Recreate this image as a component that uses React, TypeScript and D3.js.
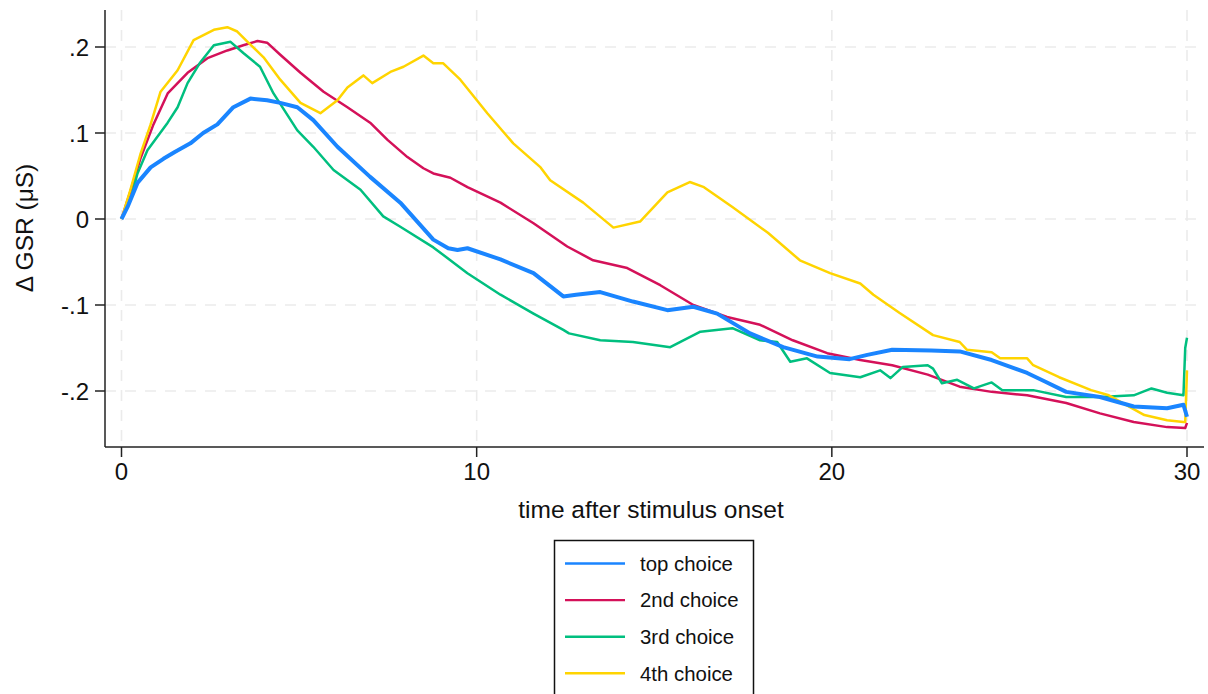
import React, { useRef, useEffect } from 'react';
import * as d3 from 'd3';

// [time, delta GSR]
const topChoice: [number, number][] = [
  [0, 0], [0.17, 0.014], [0.45, 0.042], [0.82, 0.06], [1.18, 0.07], [1.5, 0.078], [1.94, 0.088],
  [2.3, 0.1], [2.7, 0.11], [3.15, 0.13], [3.63, 0.14], [4.1, 0.138], [4.47, 0.135], [4.95, 0.13],
  [5.4, 0.115], [6.08, 0.084], [7.0, 0.049], [7.85, 0.019], [8.78, -0.024], [9.2, -0.034],
  [9.46, -0.036], [9.74, -0.034], [10.67, -0.047], [11.6, -0.063], [12.44, -0.09], [12.8, -0.088],
  [13.48, -0.085], [14.4, -0.096], [15.37, -0.106], [16.1, -0.102], [16.77, -0.11], [17.7, -0.133],
  [18.63, -0.149], [19.6, -0.16], [20.5, -0.163], [21.0, -0.158], [21.7, -0.152], [22.8, -0.153],
  [23.6, -0.154], [24.5, -0.164], [25.5, -0.179], [26.0, -0.189], [26.6, -0.201], [27.55, -0.207],
  [28.5, -0.218], [29.44, -0.22], [29.9, -0.216], [30, -0.23],
];

const secondChoice: [number, number][] = [
  [0, 0], [0.25, 0.032], [0.53, 0.07], [0.9, 0.11], [1.3, 0.146], [1.86, 0.17], [2.42, 0.187],
  [2.98, 0.196], [3.43, 0.202], [3.83, 0.207], [4.1, 0.205], [4.47, 0.191], [5.04, 0.17],
  [5.69, 0.148], [6.36, 0.13], [7.0, 0.112], [7.49, 0.092], [8.05, 0.072], [8.5, 0.059],
  [8.78, 0.053], [9.26, 0.048], [9.74, 0.037], [10.67, 0.019], [11.6, -0.005], [12.55, -0.032],
  [13.28, -0.048], [14.24, -0.057], [15.17, -0.077], [16.1, -0.1], [17.05, -0.114], [17.98, -0.123],
  [18.9, -0.141], [19.87, -0.156], [20.8, -0.164], [21.7, -0.17], [22.7, -0.181], [23.6, -0.195],
  [24.5, -0.201], [25.5, -0.205], [26.6, -0.214], [27.55, -0.226], [28.5, -0.236], [29.44, -0.242],
  [29.95, -0.243], [30, -0.237],
];

const thirdChoice: [number, number][] = [
  [0, 0], [0.25, 0.022], [0.45, 0.053], [0.73, 0.08], [1.3, 0.112], [1.58, 0.13], [1.86, 0.158],
  [2.2, 0.181], [2.6, 0.202], [3.07, 0.206], [3.43, 0.193], [3.9, 0.177], [4.28, 0.146],
  [4.95, 0.103], [5.4, 0.084], [5.97, 0.057], [6.73, 0.034], [7.37, 0.003], [7.85, -0.009],
  [8.78, -0.033], [9.74, -0.063], [10.67, -0.088], [11.6, -0.11], [12.44, -0.129], [12.6, -0.133],
  [13.48, -0.141], [14.4, -0.143], [15.45, -0.149], [16.3, -0.131], [17.2, -0.127], [17.98, -0.141],
  [18.46, -0.143], [18.83, -0.166], [19.3, -0.162], [19.95, -0.179], [20.8, -0.184], [21.36, -0.176],
  [21.65, -0.185], [22.0, -0.172], [22.7, -0.17], [22.85, -0.174], [23.1, -0.191], [23.53, -0.187],
  [24.0, -0.197], [24.5, -0.19], [24.8, -0.199], [25.67, -0.199], [26.6, -0.207], [27.55, -0.207],
  [28.5, -0.205], [29.0, -0.197], [29.44, -0.202], [29.9, -0.205], [29.95, -0.15], [30, -0.138],
];

const fourthChoice: [number, number][] = [
  [0, 0], [0.25, 0.034], [0.53, 0.075], [0.82, 0.11], [1.1, 0.148], [1.58, 0.173], [2.03, 0.208],
  [2.6, 0.22], [2.98, 0.223], [3.26, 0.218], [3.55, 0.206], [4.0, 0.188], [4.47, 0.162],
  [5.04, 0.135], [5.6, 0.123], [6.08, 0.138], [6.36, 0.153], [6.81, 0.167], [7.06, 0.158],
  [7.57, 0.171], [7.94, 0.177], [8.5, 0.19], [8.78, 0.181], [9.06, 0.181], [9.54, 0.162],
  [10.3, 0.123], [11.03, 0.088], [11.8, 0.06], [12.07, 0.045], [13.0, 0.019], [13.85, -0.01],
  [14.6, -0.003], [15.37, 0.031], [16.0, 0.043], [16.4, 0.037], [17.2, 0.014], [18.2, -0.016],
  [19.1, -0.048], [19.95, -0.063], [20.8, -0.075], [21.17, -0.088], [21.9, -0.109], [22.85, -0.135],
  [23.6, -0.143], [23.8, -0.152], [24.5, -0.155], [24.74, -0.162], [25.5, -0.162], [25.67, -0.17],
  [26.4, -0.184], [27.3, -0.199], [27.8, -0.205], [28.8, -0.228], [29.44, -0.234], [29.9, -0.236],
  [29.95, -0.236], [30, -0.176],
];

const seriesNames = ['top choice', '2nd choice', '3rd choice', '4th choice'];
const seriesColors = ['#1a85ff', '#d41159', '#00bf7f', '#ffd400'];
const xTicks = [0, 10, 20, 30];
const yTicks = [0.2, 0.1, 0, -0.1, -0.2];
const yTickLabels = ['.2', '.1', '0', '-.1', '-.2'];

const App = () => {
  const svgRef = useRef<SVGSVGElement>(null);

  useEffect(() => {
    const width = 1208;
    const height = 694;
    const font = '"Liberation Sans", Arial, sans-serif';
    const svg = d3.select(svgRef.current);
    svg.selectAll('*').remove();

    // plot box edges
    const left = 105, right = 1204, top = 10, bottom = 447;

    const x = d3.scaleLinear().domain([0, 30]).range([121.5, 1187]);
    const y = d3.scaleLinear().domain([-0.2, 0.2]).range([391, 47]);

    svg.append('rect').attr('width', width).attr('height', height).attr('fill', '#fff');

    // dashed grid
    const grid = svg.append('g').attr('stroke', '#ebebeb').attr('stroke-width', 1.6)
      .attr('stroke-dasharray', '11,9');
    xTicks.forEach(t => {
      grid.append('line').attr('x1', x(t)).attr('x2', x(t)).attr('y1', top).attr('y2', bottom);
    });
    yTicks.forEach(t => {
      grid.append('line').attr('x1', left).attr('x2', right).attr('y1', y(t)).attr('y2', y(t));
    });

    // series lines
    const line = d3.line<[number, number]>().x(d => x(d[0])).y(d => y(d[1]));
    const allSeries = [topChoice, secondChoice, thirdChoice, fourthChoice];
    [1, 2, 3, 0].forEach(i => {
      svg.append('path')
        .datum(allSeries[i])
        .attr('d', line)
        .attr('fill', 'none')
        .attr('stroke', seriesColors[i])
        .attr('stroke-width', i === 0 ? 4 : 2.5)
        .attr('stroke-linejoin', 'round');
    });

    // axes
    const axisColor = '#222';
    svg.append('line').attr('x1', left).attr('x2', left).attr('y1', top).attr('y2', bottom)
      .attr('stroke', axisColor).attr('stroke-width', 1.5);
    svg.append('line').attr('x1', left).attr('x2', right).attr('y1', bottom).attr('y2', bottom)
      .attr('stroke', axisColor).attr('stroke-width', 1.5);

    yTicks.forEach((t, i) => {
      svg.append('line').attr('x1', left - 10).attr('x2', left).attr('y1', y(t)).attr('y2', y(t))
        .attr('stroke', axisColor).attr('stroke-width', 1.5);
      svg.append('text')
        .attr('x', 89).attr('y', y(t)).attr('dy', '0.36em')
        .attr('text-anchor', 'end')
        .style('font-family', font).style('font-size', '24px').attr('fill', '#111')
        .text(yTickLabels[i]);
    });
    xTicks.forEach(t => {
      svg.append('line').attr('x1', x(t)).attr('x2', x(t)).attr('y1', bottom).attr('y2', bottom + 10)
        .attr('stroke', axisColor).attr('stroke-width', 1.5);
      svg.append('text')
        .attr('x', x(t)).attr('y', 480)
        .attr('text-anchor', 'middle')
        .style('font-family', font).style('font-size', '24px').attr('fill', '#111')
        .text(t);
    });

    // axis titles
    svg.append('text')
      .attr('x', 651).attr('y', 518)
      .attr('text-anchor', 'middle')
      .style('font-family', font).style('font-size', '24.5px').attr('fill', '#111')
      .text('time after stimulus onset');
    svg.append('text')
      .attr('transform', 'translate(33,228) rotate(-90)')
      .attr('text-anchor', 'middle')
      .style('font-family', font).style('font-size', '24.5px').attr('fill', '#111')
      .text('Δ GSR (μS)');

    // legend
    const lg = svg.append('g');
    lg.append('rect').attr('x', 554.5).attr('y', 540.5).attr('width', 199).attr('height', 170)
      .attr('fill', '#fff').attr('stroke', '#111').attr('stroke-width', 1.5);
    seriesNames.forEach((name, i) => {
      const ry = 563.5 + i * 36.6;
      lg.append('line').attr('x1', 565).attr('x2', 625).attr('y1', ry).attr('y2', ry)
        .attr('stroke', seriesColors[i]).attr('stroke-width', i === 0 ? 2.6 : 2.4);
      lg.append('text').attr('x', 640).attr('y', ry).attr('dy', '0.36em')
        .style('font-family', font).style('font-size', '20.4px').attr('fill', '#111')
        .text(name);
    });
  }, []);

  return (
    <svg ref={svgRef} width={1208} height={694}
      style={{ position: 'absolute', left: 0, top: 0, display: 'block' }} />
  );
};

export default App;
